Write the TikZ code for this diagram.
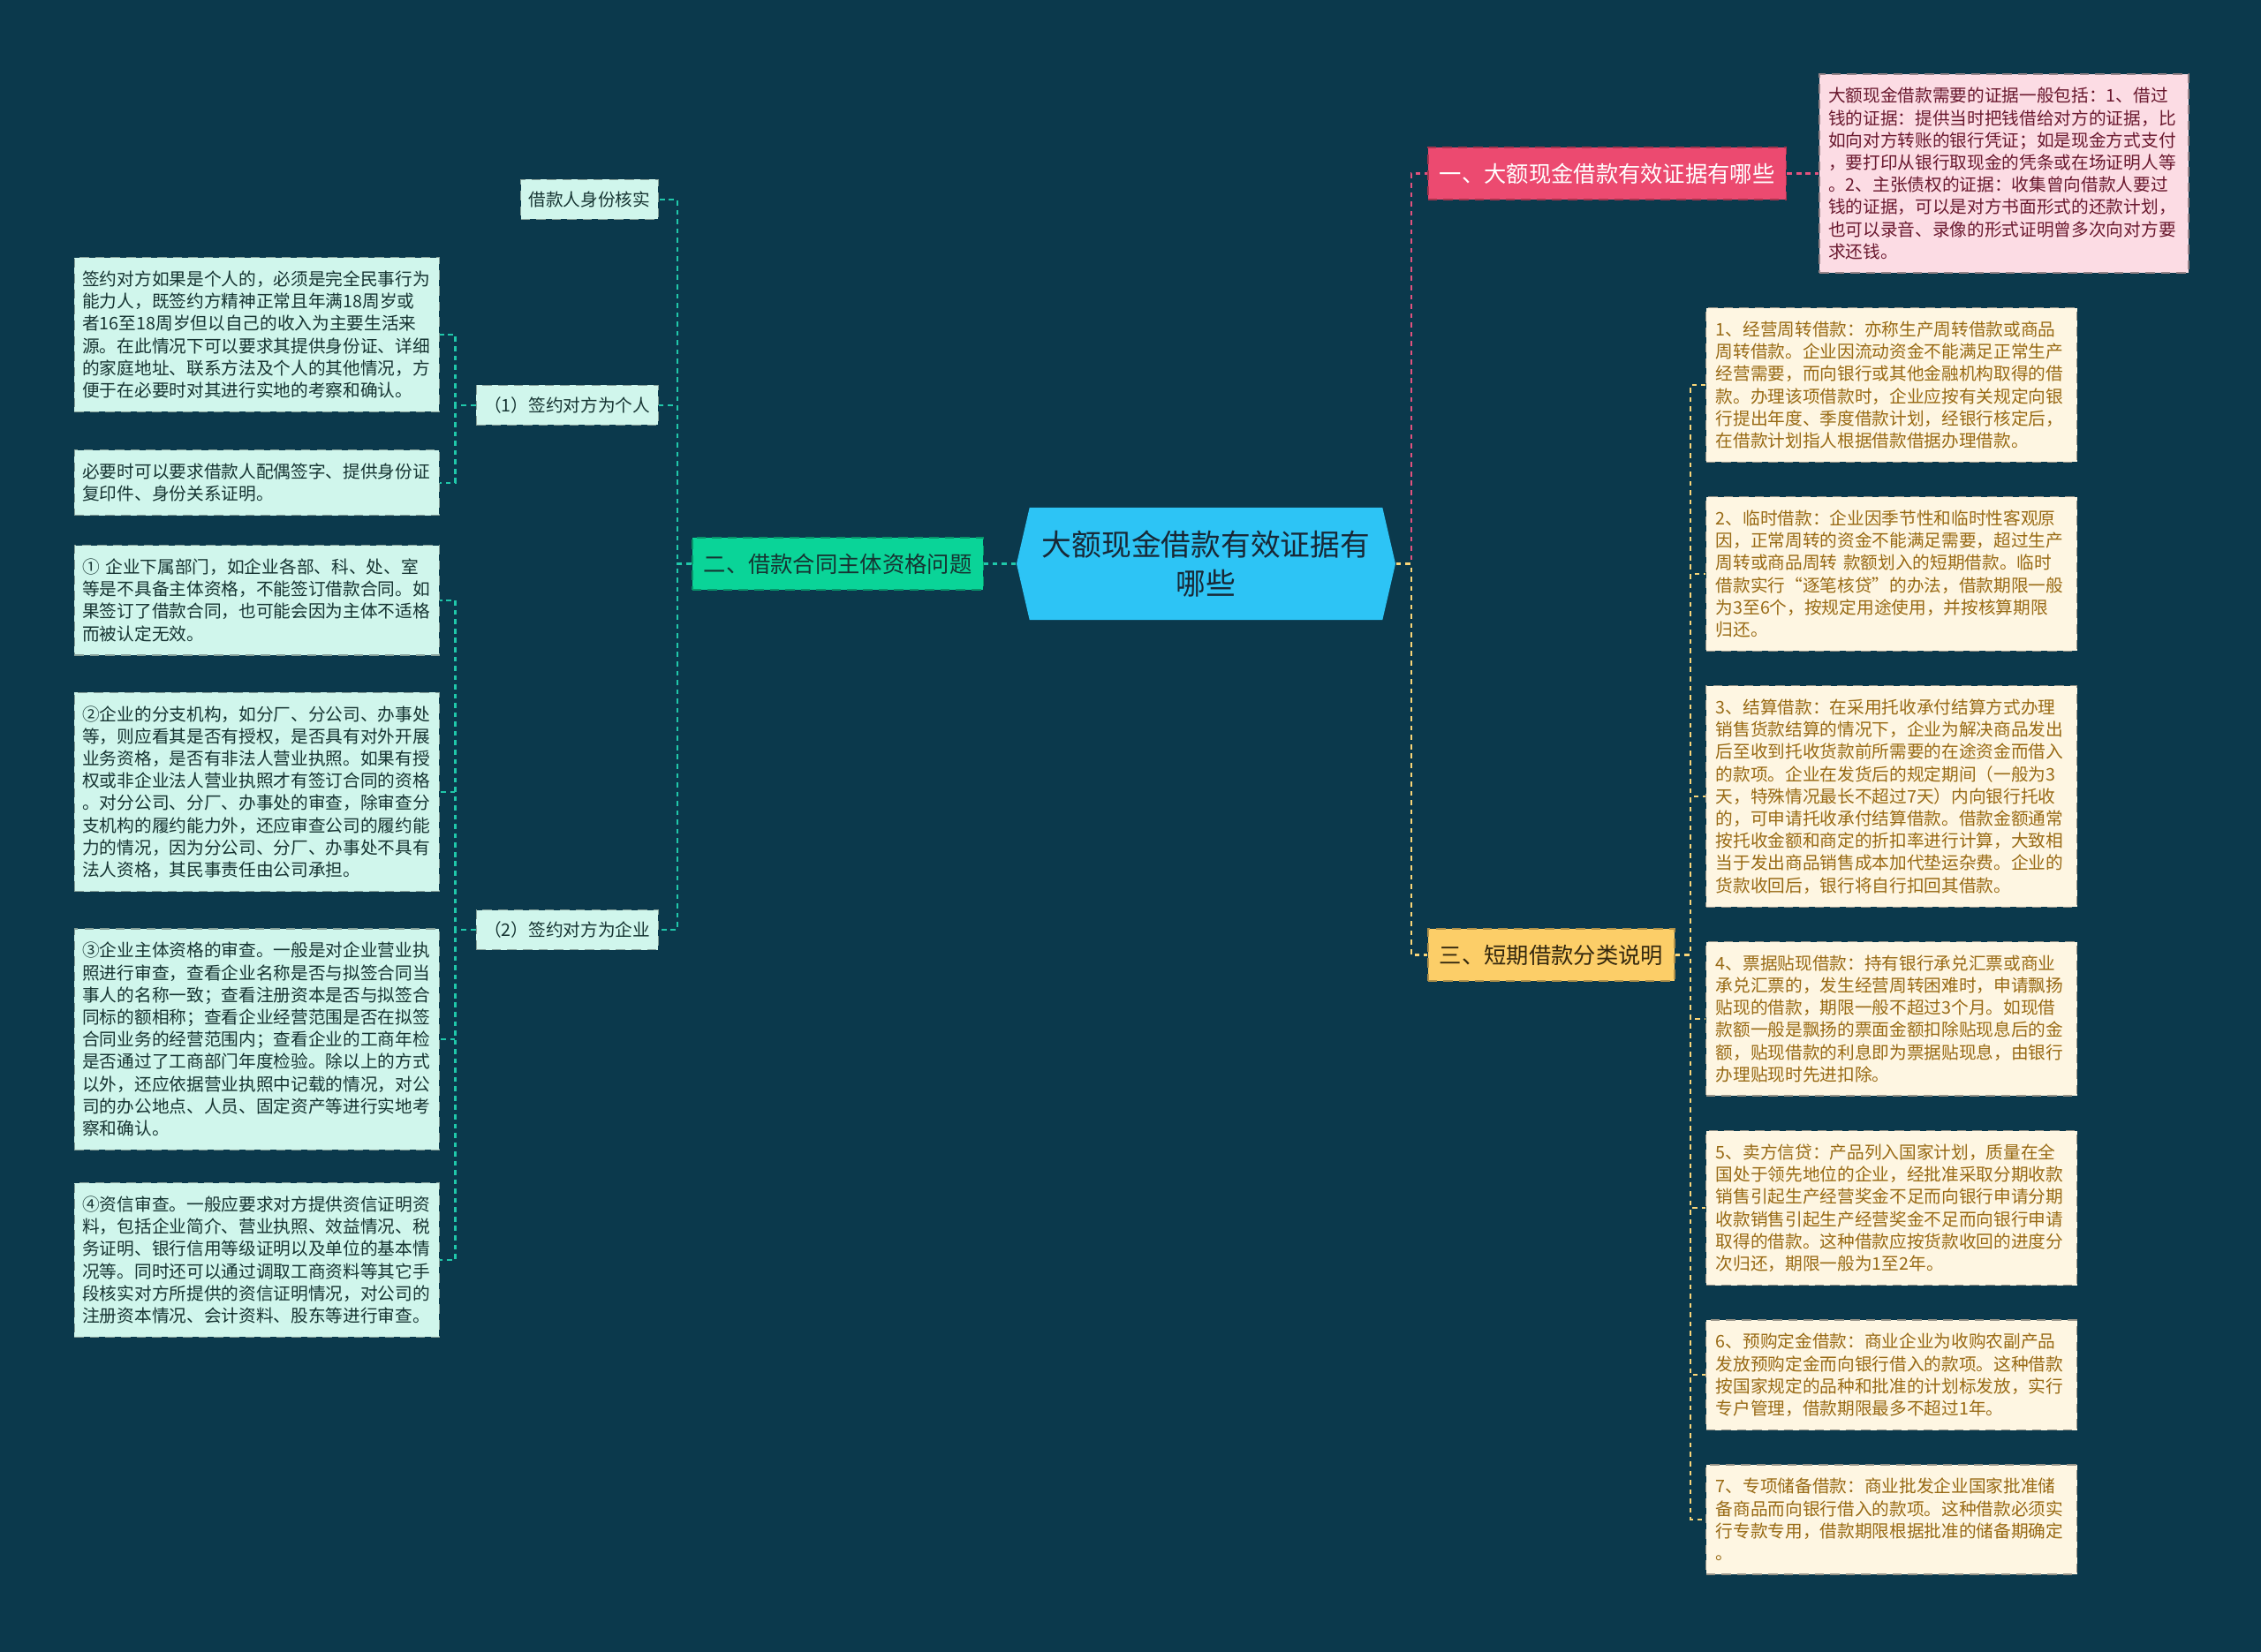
\documentclass[tikz,border=0pt]{standalone}
\usepackage{fontspec}
\setmainfont{Noto Sans CJK SC}
\usetikzlibrary{positioning,shapes.symbols}
\definecolor{deepsea}{RGB}{11,57,76}
\definecolor{skyroot}{RGB}{45,196,245}
\definecolor{rootink}{RGB}{24,40,54}
\definecolor{rosy}{RGB}{236,74,112}
\definecolor{rosyleaf}{RGB}{252,220,228}
\definecolor{rosyink}{RGB}{105,24,46}
\definecolor{jade}{RGB}{10,212,152}
\definecolor{minted}{RGB}{208,246,236}
\definecolor{jadeink}{RGB}{22,52,50}
\definecolor{amber}{RGB}{252,206,104}
\definecolor{creamy}{RGB}{254,246,226}
\definecolor{amberink}{RGB}{52,40,14}
\definecolor{goldink}{RGB}{152,106,20}
\definecolor{pinkline}{RGB}{226,82,126}
\definecolor{tealline}{RGB}{32,200,170}
\definecolor{goldline}{RGB}{250,214,120}
\newcommand\leaffont{\fontsize{5.6pt}{7.17pt}\selectfont}
\newcommand\branchfont{\fontsize{7.2pt}{8.6pt}\selectfont}

\begin{document}
\begin{tikzpicture}[node distance=0.38cm and 0.36cm,
  rootbox/.style={signal,signal to=east and west,signal pointer angle=154,fill=skyroot,text=rootink,
    minimum width=4.29cm,minimum height=1.27cm,inner sep=0pt,align=center,font=\fontsize{9.6pt}{12.5pt}\selectfont},
  branch/.style={densely dashed,line width=0.5pt,minimum height=0.59cm,inner xsep=0.13cm,inner ysep=0pt,font=\branchfont},
  mid/.style={densely dashed,line width=0.4pt,draw=minted!65!black,fill=minted,text=jadeink,
    minimum height=0.45cm,inner xsep=0.09cm,inner ysep=0pt,font=\leaffont},
  greenleaf/.style={densely dashed,line width=0.4pt,draw=minted!65!black,fill=minted,text=jadeink,
    text width=3.95cm,inner xsep=0.09cm,inner ysep=4.3pt,align=left,font=\leaffont},
  creamleaf/.style={densely dashed,line width=0.4pt,draw=creamy!60!black,fill=creamy,text=goldink,
    text width=3.98cm,inner xsep=0.11cm,inner ysep=4.3pt,align=left,font=\leaffont},
  link/.style={line width=0.6pt,dash pattern=on 1.6pt off 1.4pt}]
  \useasboundingbox (0,0) rectangle (25.6,-18.71);
  \fill[deepsea] (0,0) rectangle (25.6,-18.71);

  \node[rootbox] (root) at (13.655,-6.385) {大额现金借款有效证据有\\哪些};

  \node[branch,draw=jade!70!black,fill=jade,text=jadeink,left=0.36cm of root] (b2) {二、借款合同主体资格问题};
  \node[branch,draw=rosy!70!black,fill=rosy,text=white,anchor=west] (b1) at (16.16,-1.965) {一、大额现金借款有效证据有哪些};
  \node[branch,draw=amber!70!black,fill=amber,text=amberink,anchor=west] (b3) at (16.16,-10.815) {三、短期借款分类说明};

  \node[densely dashed,line width=0.4pt,draw=rosyleaf!60!black,fill=rosyleaf,text=rosyink,text width=3.98cm,
    inner xsep=0.1cm,inner ysep=4.3pt,align=left,font=\leaffont,right=0.36cm of b1] (p1)
    {大额现金借款需要的证据一般包括：1、借过\\钱的证据：提供当时把钱借给对方的证据，比\\如向对方转账的银行凭证；如是现金方式支付\\，要打印从银行取现金的凭条或在场证明人等\\。2、主张债权的证据：收集曾向借款人要过\\钱的证据，可以是对方书面形式的还款计划，\\也可以录音、录像的形式证明曾多次向对方要\\求还钱。};

  \node[creamleaf,anchor=north west] (y1) at (19.31,-3.48)
    {1、经营周转借款：亦称生产周转借款或商品\\周转借款。企业因流动资金不能满足正常生产\\经营需要，而向银行或其他金融机构取得的借\\款。办理该项借款时，企业应按有关规定向银\\行提出年度、季度借款计划，经银行核定后，\\在借款计划指人根据借款借据办理借款。};
  \node[creamleaf,below=of y1] (y2)
    {2、临时借款：企业因季节性和临时性客观原\\因，正常周转的资金不能满足需要，超过生产\\周转或商品周转 款额划入的短期借款。临时\\借款实行“逐笔核贷”的办法，借款期限一般\\为3至6个，按规定用途使用，并按核算期限\\归还。};
  \node[creamleaf,below=of y2] (y3)
    {3、结算借款：在采用托收承付结算方式办理\\销售货款结算的情况下，企业为解决商品发出\\后至收到托收货款前所需要的在途资金而借入\\的款项。企业在发货后的规定期间（一般为3\\天，特殊情况最长不超过7天）内向银行托收\\的，可申请托收承付结算借款。借款金额通常\\按托收金额和商定的折扣率进行计算，大致相\\当于发出商品销售成本加代垫运杂费。企业的\\货款收回后，银行将自行扣回其借款。};
  \node[creamleaf,below=of y3] (y4)
    {4、票据贴现借款：持有银行承兑汇票或商业\\承兑汇票的，发生经营周转困难时，申请飘扬\\贴现的借款，期限一般不超过3个月。如现借\\款额一般是飘扬的票面金额扣除贴现息后的金\\额，贴现借款的利息即为票据贴现息，由银行\\办理贴现时先进扣除。};
  \node[creamleaf,below=of y4] (y5)
    {5、卖方信贷：产品列入国家计划，质量在全\\国处于领先地位的企业，经批准采取分期收款\\销售引起生产经营奖金不足而向银行申请分期\\收款销售引起生产经营奖金不足而向银行申请\\取得的借款。这种借款应按货款收回的进度分\\次归还，期限一般为1至2年。};
  \node[creamleaf,below=of y5] (y6)
    {6、预购定金借款：商业企业为收购农副产品\\发放预购定金而向银行借入的款项。这种借款\\按国家规定的品种和批准的计划标发放，实行\\专户管理，借款期限最多不超过1年。};
  \node[creamleaf,below=of y6] (y7)
    {7、专项储备借款：商业批发企业国家批准储\\备商品而向银行借入的款项。这种借款必须实\\行专款专用，借款期限根据批准的储备期确定\\。};

  \node[mid,anchor=east] (m0) at (7.46,-2.26) {借款人身份核实};
  \node[mid,anchor=east] (m1) at (7.46,-4.59) {（1）签约对方为个人};
  \node[mid,anchor=east] (m2) at (7.46,-10.53) {（2）签约对方为企业};

  \node[greenleaf,anchor=north east] (la) at (4.98,-2.91)
    {签约对方如果是个人的，必须是完全民事行为\\能力人，既签约方精神正常且年满18周岁或\\者16至18周岁但以自己的收入为主要生活来\\源。在此情况下可以要求其提供身份证、详细\\的家庭地址、联系方法及个人的其他情况，方\\便于在必要时对其进行实地的考察和确认。};
  \node[greenleaf,below=0.42cm of la] (lb)
    {必要时可以要求借款人配偶签字、提供身份证\\复印件、身份关系证明。};
  \node[greenleaf,anchor=north east] (lc) at (4.98,-6.17)
    {① 企业下属部门，如企业各部、科、处、室\\等是不具备主体资格，不能签订借款合同。如\\果签订了借款合同，也可能会因为主体不适格\\而被认定无效。};
  \node[greenleaf,below=0.41cm of lc] (ld)
    {②企业的分支机构，如分厂、分公司、办事处\\等，则应看其是否有授权，是否具有对外开展\\业务资格，是否有非法人营业执照。如果有授\\权或非企业法人营业执照才有签订合同的资格\\。对分公司、分厂、办事处的审查，除审查分\\支机构的履约能力外，还应审查公司的履约能\\力的情况，因为分公司、分厂、办事处不具有\\法人资格，其民事责任由公司承担。};
  \node[greenleaf,below=0.41cm of ld] (le)
    {③企业主体资格的审查。一般是对企业营业执\\照进行审查，查看企业名称是否与拟签合同当\\事人的名称一致；查看注册资本是否与拟签合\\同标的额相称；查看企业经营范围是否在拟签\\合同业务的经营范围内；查看企业的工商年检\\是否通过了工商部门年度检验。除以上的方式\\以外，还应依据营业执照中记载的情况，对公\\司的办公地点、人员、固定资产等进行实地考\\察和确认。};
  \node[greenleaf,below=0.36cm of le] (lf)
    {④资信审查。一般应要求对方提供资信证明资\\料，包括企业简介、营业执照、效益情况、税\\务证明、银行信用等级证明以及单位的基本情\\况等。同时还可以通过调取工商资料等其它手\\段核实对方所提供的资信证明情况，对公司的\\注册资本情况、会计资料、股东等进行审查。};

  \draw[link,tealline] (root.west) -- (b2.east);
  \draw[link,tealline] (b2.west) -- ++(-0.16,0) |- (m0.east);
  \draw[link,tealline] (b2.west) -- ++(-0.16,0) |- (m1.east);
  \draw[link,tealline] (b2.west) -- ++(-0.16,0) |- (m2.east);
  \draw[link,tealline] (m1.west) -- ++(-0.23,0) |- (la.east);
  \draw[link,tealline] (m1.west) -- ++(-0.23,0) |- (lb.east);
  \draw[link,tealline] (m2.west) -- ++(-0.23,0) |- (lc.east);
  \draw[link,tealline] (m2.west) -- ++(-0.23,0) |- (ld.east);
  \draw[link,tealline] (m2.west) -- ++(-0.23,0) |- (le.east);
  \draw[link,tealline] (m2.west) -- ++(-0.23,0) |- (lf.east);
  \draw[link,pinkline] (root.east) -- ++(0.17,0) |- (b1.west);
  \draw[link,pinkline] (b1.east) -- (p1.west);
  \draw[link,goldline] (root.east) -- ++(0.17,0) |- (b3.west);
  \draw[link,goldline] (b3.east) -- ++(0.17,0) |- (y1.west);
  \draw[link,goldline] (b3.east) -- ++(0.17,0) |- (y2.west);
  \draw[link,goldline] (b3.east) -- ++(0.17,0) |- (y3.west);
  \draw[link,goldline] (b3.east) -- ++(0.17,0) |- (y4.west);
  \draw[link,goldline] (b3.east) -- ++(0.17,0) |- (y5.west);
  \draw[link,goldline] (b3.east) -- ++(0.17,0) |- (y6.west);
  \draw[link,goldline] (b3.east) -- ++(0.17,0) |- (y7.west);
\end{tikzpicture}
\end{document}
